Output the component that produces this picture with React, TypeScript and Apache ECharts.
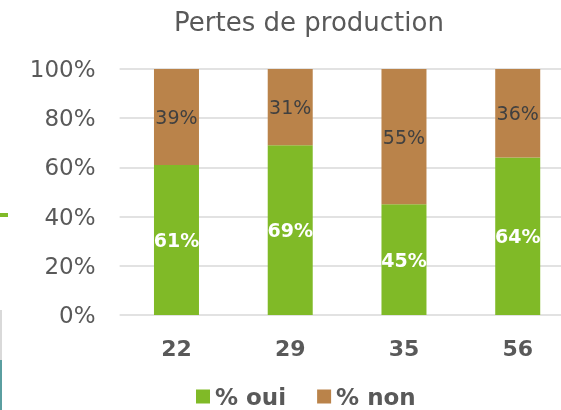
import React, { useEffect, useRef } from "react";
import * as echarts from "echarts";

const categories = ["22", "29", "35", "56"];
const ouiValues = [61, 69, 45, 64];
const nonValues = [39, 31, 55, 36];
const yTicks = [0, 20, 40, 60, 80, 100];

export default function App() {
  const ref = useRef<HTMLDivElement>(null);
  useEffect(() => {
    if (!ref.current) return;
    const chart = echarts.init(ref.current, undefined, { renderer: "svg" });
    const font = "DejaVu Sans, Verdana, sans-serif";
    chart.setOption({
      animation: false,
      textStyle: { fontFamily: font },
      title: {
        text: "Pertes de production",
        left: 304,
        top: 4,
        textAlign: "center",
        textStyle: { fontFamily: font, fontSize: 26, fontWeight: "normal", color: "#595959" },
      },
      legend: {
        top: 385,
        left: 196,
        padding: 0,
        itemWidth: 14,
        itemHeight: 14,
        itemGap: 31,
        icon: "rect",
        textStyle: { fontFamily: font, fontSize: 23, lineHeight: 22, fontWeight: "bold", color: "#595959" },
        data: ["% oui", "% non"],
      },
      grid: { left: 119.6, width: 455, top: 69, height: 246, containLabel: false, outerBoundsMode: "none" },
      xAxis: {
        type: "category",
        data: categories,
        axisLine: { show: false },
        axisTick: { show: false },
        axisLabel: { fontFamily: font, fontSize: 22, fontWeight: "bold", color: "#595959", margin: 22 },
      },
      yAxis: {
        type: "value",
        min: 0,
        max: 100,
        interval: 20,
        axisLine: { show: false },
        axisTick: { show: false },
        axisLabel: {
          fontFamily: font,
          fontSize: 23,
          color: "#595959",
          margin: 24,
          formatter: (v: number) => (yTicks.includes(v) ? v + "%" : ""),
        },
        splitLine: { lineStyle: { color: "#d9d9d9", width: 1.5 } },
      },
      series: [
        {
          name: "% oui",
          type: "bar",
          stack: "s",
          barWidth: 45,
          data: ouiValues,
          itemStyle: { color: "#80BA27" },
          label: {
            show: true,
            position: "inside",
            formatter: "{c}%",
            fontFamily: font,
            fontSize: 19,
            fontWeight: "bold",
            color: "#ffffff",
          },
        },
        {
          name: "% non",
          type: "bar",
          stack: "s",
          barWidth: 45,
          data: nonValues,
          itemStyle: { color: "#BA834A" },
          label: {
            show: true,
            position: "inside",
            formatter: "{c}%",
            fontFamily: font,
            fontSize: 19,
            color: "#404040",
          },
        },
      ],
      graphic: [
        { type: "rect", shape: { x: 0, y: 213, width: 8, height: 4 }, style: { fill: "#80BA27" } },
        { type: "rect", shape: { x: 0, y: 310, width: 2, height: 55 }, style: { fill: "#d9d9d9" } },
        { type: "rect", shape: { x: 0, y: 360, width: 2, height: 50 }, style: { fill: "#5a9ea0" } },
      ],
    });
    return () => chart.dispose();
  }, []);
  return <div ref={ref} style={{ width: 561, height: 410, position: "fixed", left: 0, top: 0 }} />;
}
